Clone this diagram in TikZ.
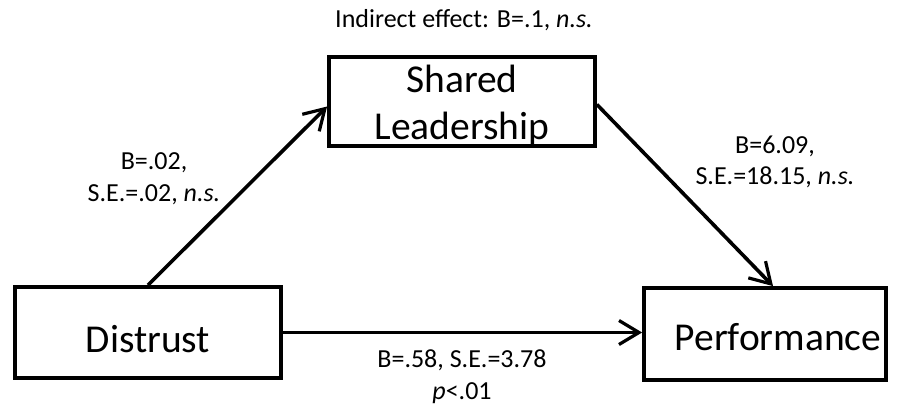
\documentclass[tikz,border=0pt]{standalone}
\usepackage{fontspec}
\setmainfont{Carlito}
\usetikzlibrary{arrows.meta,calc}
\begin{document}
\begin{tikzpicture}[x=1pt,y=1pt,
  box/.style={draw=black, line width=3.8pt, fill=white, inner sep=0pt},
  boxtext/.style={font=\fontsize{39.5}{47}\selectfont, align=center, anchor=base, inner sep=0pt},
  lab/.style={font=\fontsize{26}{32}\selectfont, align=center, anchor=base, inner sep=0pt},
  conn/.style={line width=3.6pt, -{Straight Barb[length=20pt,width=24pt,line width=3.2pt]}}]
\useasboundingbox (0,0) rectangle (901,410);
% boxes
\node[box, minimum width=266pt, minimum height=91pt] (dis) at (148,77.5) {};
\node[box, minimum width=266pt, minimum height=89pt] (sl) at (462,308.5) {};
\node[box, minimum width=242pt, minimum height=92pt] (perf) at (765,76) {};
% box texts
\node[boxtext] (dist) at (148,58) {Distrust};
\node[boxtext] (slt) at (462,270) {Shared\\Leadership};
\node[boxtext] (perft) at (778,60) {Performance};
% connectors
\draw[conn] (dis.north) -- ([yshift=-5pt]sl.west);
\draw[conn] ([yshift=-3pt]sl.east) -- ([xshift=8pt]perf.north);
\draw[conn] (dis.east) -- (dis.east -| perf.west);
% labels
\node[lab] (ind) at (464,382) {Indirect effect: B=.1, \textit{n.s.}};
\node[lab] (la) at (154,208) {B=.02,\\S.E.=.02, \textit{n.s.}};
\node[lab] (lb) at (775,225) {B=6.09,\\S.E.=18.15, \textit{n.s.}};
\node[lab] (lc) at (462,11) {B=.58, S.E.=3.78\\\textit{p}<.01};
\end{tikzpicture}
\end{document}
